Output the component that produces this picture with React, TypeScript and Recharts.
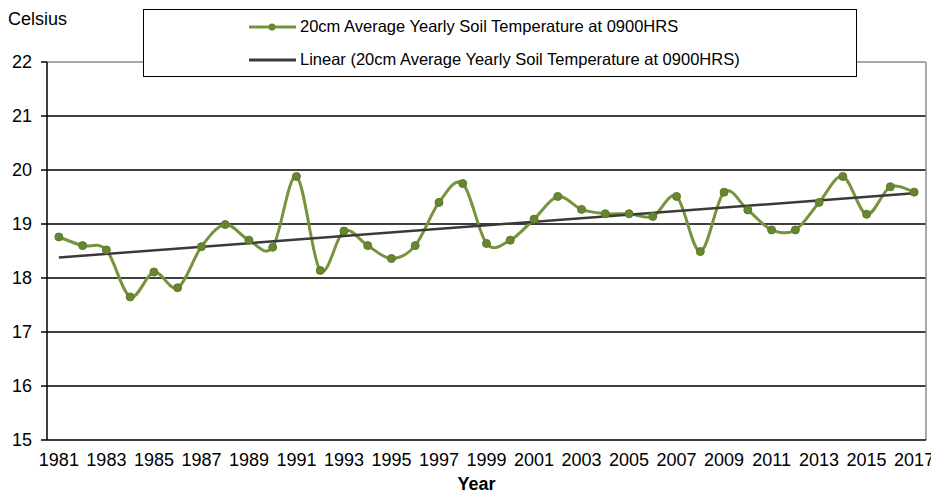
import React from 'react';
import { LineChart, Line, XAxis, YAxis, CartesianGrid, ReferenceLine, Legend } from 'recharts';

const years: number[] = [
  1981, 1982, 1983, 1984, 1985, 1986, 1987, 1988, 1989, 1990,
  1991, 1992, 1993, 1994, 1995, 1996, 1997, 1998, 1999, 2000,
  2001, 2002, 2003, 2004, 2005, 2006, 2007, 2008, 2009, 2010,
  2011, 2012, 2013, 2014, 2015, 2016, 2017,
];

const temps: number[] = [
  18.76, 18.6, 18.52, 17.65, 18.11, 17.82, 18.58, 18.99, 18.7, 18.57,
  19.88, 18.14, 18.87, 18.6, 18.36, 18.6, 19.4, 19.75, 18.64, 18.7,
  19.09, 19.51, 19.27, 19.19, 19.19, 19.14, 19.51, 18.49, 19.59, 19.26,
  18.89, 18.89, 19.4, 19.88, 19.18, 19.69, 19.59,
];

// Trend line end values
const trendYears: number[] = [1981, 2017];
const trendValues: number[] = [18.38, 19.57];

const yTicks: number[] = [15, 16, 17, 18, 19, 20, 21, 22];
const gridValues: number[] = [16, 17, 18, 19, 20, 21];
const labelYears: number[] = years.filter((_, i) => i % 2 === 0);
const boundaryTicks: number[] = [...years.map((y) => y - 0.5), years[years.length - 1] + 0.5];

const seriesName = '20cm Average Yearly Soil Temperature at 0900HRS';
const trendName = 'Linear (20cm Average Yearly Soil Temperature at 0900HRS)';

const chartData = years.map((year, i) => {
  const ti = trendYears.indexOf(year);
  return { year, temp: temps[i], trend: ti >= 0 ? trendValues[ti] : null };
});

const FONT = '"Liberation Sans", Arial, sans-serif';
const GREEN = '#77933C';
const DOT_GREEN = '#66872F';
const TREND = '#3a3a3a';

// Excel-like smoothed line (Catmull-Rom spline as cubic Bezier)
function excelSmooth(context: any) {
  let pts: number[][] = [];
  return {
    areaStart() {},
    areaEnd() {},
    lineStart() {
      pts = [];
    },
    lineEnd() {
      const n = pts.length;
      if (n === 0) return;
      context.moveTo(pts[0][0], pts[0][1]);
      for (let i = 0; i < n - 1; i++) {
        const p0 = pts[i > 0 ? i - 1 : i];
        const p1 = pts[i];
        const p2 = pts[i + 1];
        const p3 = pts[i + 2 < n ? i + 2 : i + 1];
        const c1x = p1[0] + (p2[0] - p0[0]) / 6;
        const c1y = p1[1] + (p2[1] - p0[1]) / 6;
        const c2x = p2[0] - (p3[0] - p1[0]) / 6;
        const c2y = p2[1] - (p3[1] - p1[1]) / 6;
        context.bezierCurveTo(c1x, c1y, c2x, c2y, p2[0], p2[1]);
      }
    },
    point(x: number, y: number) {
      pts.push([+x, +y]);
    },
  };
}

const renderLegend = (props: any) => {
  const payload: any[] = props.payload || [];
  return (
    <div
      style={{
        display: 'flex',
        flexDirection: 'column',
        alignItems: 'flex-start',
        paddingLeft: 105,
        fontFamily: FONT,
      }}
    >
      {payload.map((entry: any, idx: number) => {
        const isData = entry.dataKey === 'temp';
        return (
          <div key={idx} style={{ display: 'flex', alignItems: 'center', height: 33 }}>
            <svg width={48} height={12} style={{ display: 'block' }}>
              <line x1={0} y1={6} x2={47} y2={6} stroke={isData ? GREEN : TREND} strokeWidth={3} />
              {isData && <circle cx={23} cy={6} r={3.5} fill={DOT_GREEN} />}
            </svg>
            <span style={{ fontSize: 16.5, color: '#000', marginLeft: 3, whiteSpace: 'nowrap' }}>
              {entry.value}
            </span>
          </div>
        );
      })}
    </div>
  );
};

export default function App() {
  return (
    <div style={{ position: 'absolute', left: 0, top: 0, background: '#fff' }}>
      <LineChart
        width={931}
        height={495}
        data={chartData}
        margin={{ top: 62, right: 5, bottom: 0, left: 0 }}
      >
        <CartesianGrid
          horizontal={true}
          vertical={false}
          horizontalValues={gridValues}
          stroke="#000"
          strokeWidth={1.5}
        />
        <XAxis
          xAxisId="marks"
          dataKey="year"
          type="number"
          domain={[boundaryTicks[0], boundaryTicks[boundaryTicks.length - 1]]}
          ticks={boundaryTicks}
          tick={false}
          tickLine={{ stroke: '#000', strokeWidth: 1.5 }}
          tickSize={6}
          axisLine={false}
          height={0}
          allowDecimals={true}
        />
        <XAxis
          xAxisId="main"
          dataKey="year"
          type="number"
          domain={[boundaryTicks[0], boundaryTicks[boundaryTicks.length - 1]]}
          ticks={labelYears}
          interval={0}
          tickLine={false}
          tickSize={6}
          tickMargin={7}
          axisLine={{ stroke: '#000', strokeWidth: 1.5 }}
          tick={{ fill: '#000', fontSize: 18, fontFamily: FONT }}
          height={55}
          label={{
            content: (p: any) => {
              const vb = p.viewBox || { x: 47, width: 879 };
              return (
                <text
                  x={vb.x + vb.width / 2 - 10}
                  y={490}
                  textAnchor="middle"
                  fontFamily={FONT}
                  fontSize={18}
                  fontWeight="bold"
                  fill="#000"
                >
                  Year
                </text>
              );
            },
          }}
        />
        <YAxis
          type="number"
          domain={[15, 22]}
          ticks={yTicks}
          interval={0}
          width={47}
          tickSize={6}
          tickMargin={9}
          axisLine={{ stroke: '#000', strokeWidth: 1.5 }}
          tickLine={{ stroke: '#000', strokeWidth: 1.5 }}
          tick={{ fill: '#000', fontSize: 18, fontFamily: FONT }}
          label={{
            content: () => (
              <text x={8} y={25} fontFamily={FONT} fontSize={18} fill="#000">
                Celsius
              </text>
            ),
          }}
        />
        <ReferenceLine xAxisId="main" y={22} stroke="#8c8c8c" strokeWidth={1.5} />
        <ReferenceLine xAxisId="main" x={boundaryTicks[boundaryTicks.length - 1]} stroke="#8c8c8c" strokeWidth={1.5} />
        <Legend
          layout="horizontal"
          verticalAlign="middle"
          align="center"
          width={714}
          height={68}
          content={renderLegend}
          wrapperStyle={{
            position: 'absolute',
            left: 143,
            top: 9,
            width: 714,
            height: 68,
            border: '1.5px solid #000',
            background: '#fff',
            boxSizing: 'border-box',
          }}
        />
        <Line
          xAxisId="main"
          dataKey="temp"
          name={seriesName}
          type={excelSmooth as any}
          stroke={GREEN}
          strokeWidth={3}
          dot={{ r: 4, fill: DOT_GREEN, stroke: '#5a7a28', strokeWidth: 1 }}
          activeDot={false}
          isAnimationActive={false}
        />
        <Line
          xAxisId="main"
          dataKey="trend"
          name={trendName}
          type="linear"
          connectNulls={true}
          stroke={TREND}
          strokeWidth={2.5}
          dot={false}
          activeDot={false}
          isAnimationActive={false}
        />
      </LineChart>
    </div>
  );
}
